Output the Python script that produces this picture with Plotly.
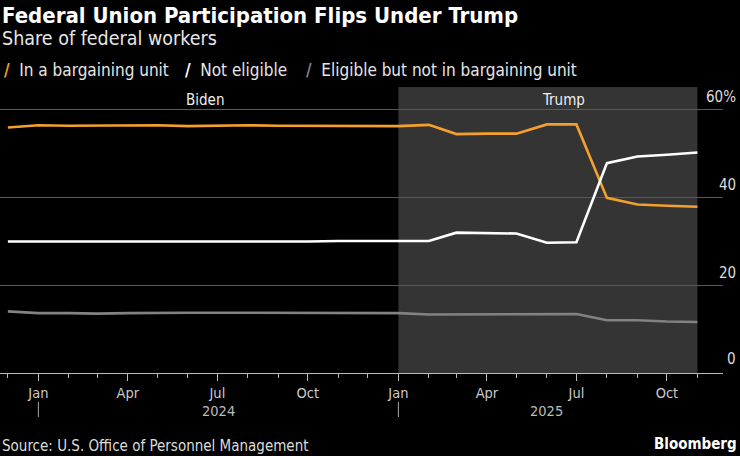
import plotly.graph_objects as go

months = ["2023-12-01", "2024-01-01", "2024-02-01", "2024-03-01", "2024-04-01", "2024-05-01",
          "2024-06-01", "2024-07-01", "2024-08-01", "2024-09-01", "2024-10-01", "2024-11-01",
          "2024-12-01", "2025-01-01", "2025-02-01", "2025-03-01", "2025-04-01", "2025-05-01",
          "2025-06-01", "2025-07-01", "2025-08-01", "2025-09-01", "2025-10-01", "2025-11-01"]

in_unit = [55.8, 56.3, 56.2, 56.2, 56.3, 56.3, 56.1, 56.2, 56.3, 56.2, 56.2, 56.1,
           56.1, 56.1, 56.4, 54.3, 54.4, 54.4, 56.5, 56.5, 39.8, 38.3, 38.0, 37.8]
not_eligible = [29.9, 29.9, 29.9, 29.9, 29.9, 29.8, 29.9, 29.9, 29.8, 29.9, 29.9, 30.0,
                30.0, 30.0, 30.0, 31.9, 31.8, 31.7, 29.6, 29.7, 47.7, 49.2, 49.6, 50.1]
eligible_not_in = [14.0, 13.6, 13.6, 13.5, 13.6, 13.7, 13.7, 13.7, 13.7, 13.6, 13.6, 13.6,
                   13.6, 13.6, 13.3, 13.3, 13.3, 13.4, 13.4, 13.4, 12.0, 12.0, 11.7, 11.6]

series_names = ["In a bargaining unit", "Not eligible", "Eligible but not in bargaining unit"]
series_colors = ["#f5a02c", "#ffffff", "#828282"]

tick_dates = ["2024-01-01", "2024-04-01", "2024-07-01", "2024-10-01",
              "2025-01-01", "2025-04-01", "2025-07-01", "2025-10-01"]
tick_labels = ["Jan", "Apr", "Jul", "Oct", "Jan", "Apr", "Jul", "Oct"]
y_ticks = [20, 40, 60]
y_labels = ["20", "40", "60%"]

years = ["2024", "2025"]
year_label_dates = ["2024-07-02", "2025-06-01"]
year_start_dates = ["2024-01-01", "2025-01-01"]

eras = ["Biden", "Trump"]
era_label_dates = ["2024-06-18", "2025-06-18"]
trump_start = "2025-01-01"
trump_end = "2025-11-01"

FONT = "DejaVu Sans Condensed, DejaVu Sans, sans-serif"
W, H = 740, 456
PT, PB = 87, 373
PH = PB - PT
PW = W - 17


def py(p):
    return (PB - p) / PH


fig = go.Figure()
for name, vals, col in zip(series_names, [in_unit, not_eligible, eligible_not_in], series_colors):
    fig.add_trace(go.Scatter(x=months, y=vals, name=name, mode="lines",
                             line=dict(color=col, width=2.6), showlegend=False))

shapes = [dict(type="rect", xref="x", yref="paper", x0=trump_start, x1=trump_end, y0=0, y1=1,
               fillcolor="#343434", line=dict(width=0), layer="below")]
for d in year_start_dates:
    shapes.append(dict(type="line", xref="x", yref="paper", x0=d, x1=d,
                       y0=py(402), y1=py(417), line=dict(color="#aaaaaa", width=1)))

annotations = []
annotations.append(dict(text="<b>Federal Union Participation Flips Under Trump</b>", xref="paper", yref="paper",
                        x=0, y=py(16), xanchor="left", yanchor="middle", showarrow=False,
                        font=dict(family=FONT, size=22, color="#ffffff")))
annotations.append(dict(text="Share of federal workers", xref="paper", yref="paper",
                        x=0, y=py(38), xanchor="left", yanchor="middle", showarrow=False,
                        font=dict(family=FONT, size=19.5, color="#e6e6e6")))
leg_x = [2, 183, 304]
for name, col, lx in zip(series_names, series_colors, leg_x):
    annotations.append(dict(text=f"<span style='color:{col}'><b>/</b></span>  {name}", xref="paper", yref="paper",
                            x=lx / PW, y=py(70), xanchor="left", yanchor="middle", showarrow=False,
                            font=dict(family=FONT, size=17, color="#e6e6e6")))
for t, v in zip(y_labels, y_ticks):
    annotations.append(dict(text=t, xref="paper", yref="y", x=1, y=v, xanchor="right", yanchor="bottom",
                            xshift=15, yshift=1, showarrow=False,
                            font=dict(family=FONT, size=15, color="#dddddd")))
annotations.append(dict(text="0", xref="paper", yref="y", x=1, y=0, xanchor="right", yanchor="bottom",
                        xshift=15, yshift=3, showarrow=False, font=dict(family=FONT, size=15, color="#dddddd")))
for e, d in zip(eras, era_label_dates):
    annotations.append(dict(text=e, xref="x", yref="paper", x=d, y=py(100), xanchor="center", yanchor="middle",
                            showarrow=False, font=dict(family=FONT, size=15, color="#eeeeee")))
for yl, d in zip(years, year_label_dates):
    annotations.append(dict(text=yl, xref="x", yref="paper", x=d, y=py(411), xanchor="center", yanchor="middle",
                            showarrow=False, font=dict(family=FONT, size=14.5, color="#bbbbbb")))
annotations.append(dict(text="Source: U.S. Office of Personnel Management", xref="paper", yref="paper",
                        x=0, y=py(446), xanchor="left", yanchor="middle", showarrow=False,
                        font=dict(family=FONT, size=15, color="#dddddd")))
annotations.append(dict(text="<b>Bloomberg</b>", xref="paper", yref="paper",
                        x=(W - 1) / PW, y=py(444), xanchor="right", yanchor="middle", showarrow=False,
                        font=dict(family=FONT, size=15, color="#ffffff")))

fig.update_layout(
    width=W, height=H,
    margin=dict(l=0, r=17, t=PT, b=H - PB, pad=0),
    paper_bgcolor="#000000", plot_bgcolor="#000000",
    shapes=shapes, annotations=annotations,
    showlegend=False,
    xaxis=dict(range=["2023-11-23", "2025-11-27"], type="date",
               tickvals=tick_dates, ticktext=tick_labels,
               ticks="outside", ticklen=7, tickwidth=1, tickcolor="#bbbbbb",
               minor=dict(dtick="M1", tick0="2023-12-01", ticks="outside", ticklen=4, tickcolor="#bbbbbb", showgrid=False),
               showline=True, linecolor="#bbbbbb", linewidth=1,
               showgrid=False, zeroline=False,
               tickfont=dict(family=FONT, size=14.5, color="#cccccc")),
    yaxis=dict(range=[0, 65], tickvals=y_ticks, showticklabels=False,
               showgrid=True, gridcolor="#5a5a5a", gridwidth=1, zeroline=False, showline=False),
)

fig.write_html("out.html", config={"displayModeBar": False},
               post_script="document.body.style.margin='0';document.body.style.overflow='hidden';")
